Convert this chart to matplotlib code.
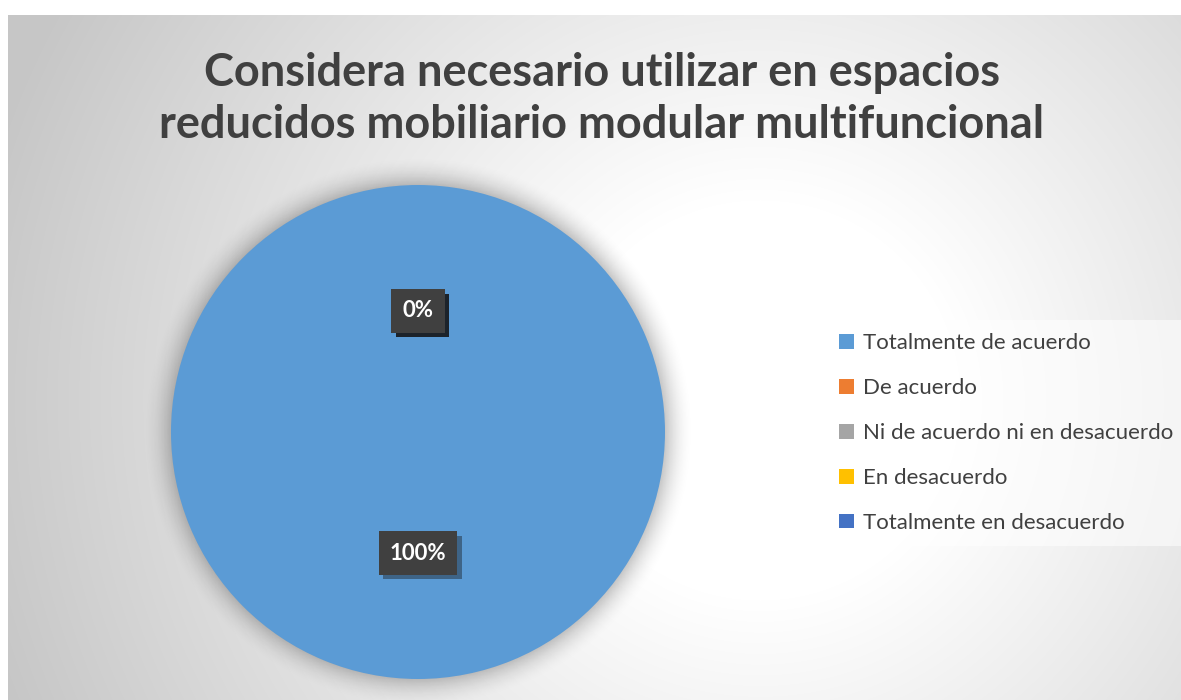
import numpy as np
import matplotlib
matplotlib.use("Agg")
import matplotlib.pyplot as plt
import matplotlib.patheffects as pe

# ---------- Data ----------
title = "Considera necesario utilizar en espacios\nreducidos mobiliario modular multifuncional"
categories = ["Totalmente de acuerdo", "De acuerdo", "Ni de acuerdo ni en desacuerdo",
              "En desacuerdo", "Totalmente en desacuerdo"]
values = [100, 0, 0, 0, 0]
colors = ["#5B9BD5", "#ED7D31", "#A5A5A5", "#FFC000", "#4472C4"]

W, H = 1181, 700
fig = plt.figure(figsize=(W / 100, H / 100), dpi=100)
fig.patch.set_facecolor("white")

# ---------- Background (radial gradient) ----------
bg = fig.add_axes([8 / W, 0, 1 - 8 / W, 685 / H])
xx, yy = np.meshgrid(np.arange(8, W), np.arange(15, H))
d = np.hypot(xx - 760, yy - 400)
shade = 1 - 0.22 * np.clip((d - 200) / 600, 0, 1)
bg.imshow(np.dstack([shade] * 3), aspect="auto", interpolation="bilinear")
bg.set_axis_off()

# ---------- Pie ----------
cx, cy, r = 418, 432, 247
m = 1.15
ax = fig.add_axes([(cx - r * m) / W, (H - cy - r * m) / H, 2 * r * m / W, 2 * r * m / H])
ax.set_axis_off()

# soft shadow around the pie
sx, sy = np.meshgrid(np.linspace(-m, m, 400), np.linspace(-m, m, 400))
rr = np.hypot(sx, sy)
alpha = np.clip(1 - (rr - 1) / 0.12, 0, 1) ** 2 * 0.22
alpha[rr < 0.98] = 0
sh = np.zeros((400, 400, 4))
sh[..., 3] = alpha
ax.imshow(sh, extent=(-m, m, -m, m), origin="lower", zorder=0)

wedges, texts, autotexts = ax.pie(values, colors=colors, startangle=90, counterclock=False,
                                  autopct="%1.0f%%", pctdistance=0.49, radius=1,
                                  textprops=dict(color="white", fontsize=16, fontweight="bold",
                                                 family="Lato"))
ax.set_xlim(-m, m)
ax.set_ylim(-m, m)
ax.set_aspect("equal")
for t in autotexts:
    t.set_bbox(dict(boxstyle="square,pad=0.5", fc="#404040", ec="none"))
    t.get_bbox_patch().set_path_effects([pe.SimplePatchShadow(offset=(3, -3), alpha=0.4),
                                         pe.Normal()])

# ---------- Title ----------
fig.text(602 / W, 1 - 99 / H, title, ha="center", va="center", fontsize=32.5,
         fontweight="bold", color="#404040", family="Lato", linespacing=1.3)

# ---------- Legend ----------
leg = fig.legend(wedges, categories, loc="upper left",
                 bbox_to_anchor=(826 / W, 1 - 320 / H), frameon=True,
                 prop=dict(family="Lato", size=16), labelcolor="#404040",
                 handlelength=0.65, handleheight=0.65, handletextpad=0.4,
                 labelspacing=1.12, borderpad=0.6, borderaxespad=0)
leg.get_frame().set_facecolor("white")
leg.get_frame().set_alpha(0.55)
leg.get_frame().set_edgecolor("none")
leg.get_frame().set_boxstyle("square", pad=0)

fig.savefig("out.png", dpi=100)
